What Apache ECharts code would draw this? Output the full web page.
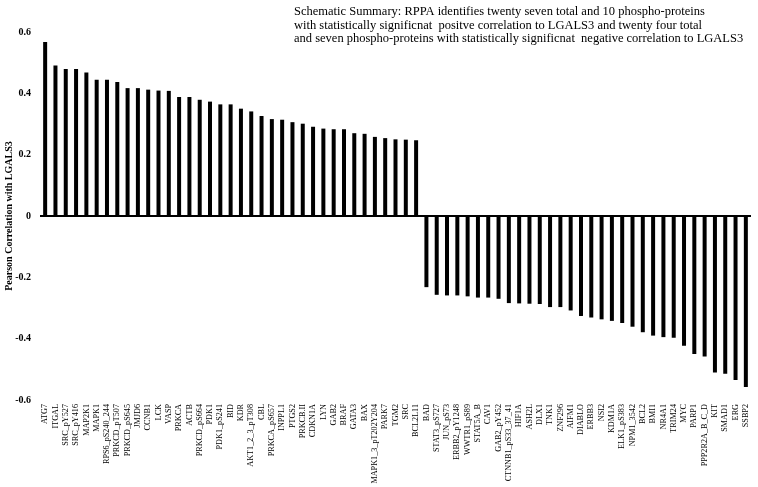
<!DOCTYPE html>
<html>
<head>
<meta charset="utf-8">
<script src="https://cdn.jsdelivr.net/npm/echarts@6/dist/echarts.min.js"></script>
<style>
html,body{margin:0;padding:0;background:#fff;}
#c{width:758px;height:487px;}
</style>
</head>
<body>
<div id="c"></div>
<script>
const categories = [
  'ATG7','ITGAL','SRC_pY527','SRC_pY416','MAP2K1','MAPK1','RPS6_pS240_244','PRKCD_pT507','PRKCD_pS645','JMJD6',
  'CCNB1','LCK','VASP','PRKCA','ACTB','PRKCD_pS664','PDK1','PDK1_pS241','BID','KDR',
  'AKT1_2_3_pT308','CBL','PRKCA_pS657','INPPL1','PTGS2','PRKCB.II','CDKN1A','LYN','GAB2','BRAF',
  'GATA3','BAX','MAPK1_3_pT202Y204','PARK7','TGM2','SRC','BCL2L11',
  'BAD','STAT3_pS727','JUN_pS73','ERBB2_pY1248','WWTR1_pS89','STAT5A_B','CAV1','GAB2_pY452','CTNNB1_pS33_37_41','HIF1A',
  'ASH2L','DLX1','TNK1','ZNF296','AIFM1','DIABLO','ERBB3','NSI2','KDM1A','ELK1_pS383',
  'NPM1_3542','BCL2','BMI1','NR4A1','TRIM24','MYC','PARP1','PPP2R2A_B_C_D','KIT','SMAD1',
  'ERG','SSBP2'
];
const correlations = [
  0.567,0.491,0.479,0.479,0.468,0.444,0.444,0.437,0.417,0.417,
  0.412,0.409,0.408,0.388,0.388,0.379,0.373,0.364,0.364,0.350,
  0.341,0.326,0.316,0.314,0.306,0.301,0.291,0.285,0.283,0.283,
  0.270,0.268,0.258,0.254,0.250,0.249,0.247,
  -0.232,-0.257,-0.259,-0.259,-0.262,-0.266,-0.266,-0.270,-0.284,-0.285,
  -0.286,-0.287,-0.297,-0.297,-0.308,-0.326,-0.331,-0.337,-0.342,-0.349,
  -0.361,-0.379,-0.390,-0.395,-0.397,-0.423,-0.450,-0.458,-0.510,-0.514,
  -0.535,-0.558
];
const yTicks = [-0.6,-0.4,-0.2,0,0.2,0.4,0.6];
const titleLines = [
  'Schematic Summary: RPPA identifies twenty seven total and 10 phospho-proteins',
  'with statistically significnat  positve correlation to LGALS3 and twenty four total',
  'and seven phospho-proteins with statistically significnat  negative correlation to LGALS3'
];
const yName = 'Pearson Correlation with LGALS3';

const chart = echarts.init(document.getElementById('c'));
const serif = '"Liberation Serif","Times New Roman",serif';
chart.setOption({
  animation: false,
  backgroundColor: '#fff',
  title: {
    text: titleLines.join('\n'),
    left: 289, top: 0,
    textStyle: {fontFamily: serif, fontSize: 12.5, fontWeight: 'normal', color: '#000', lineHeight: 13.5}
  },
  grid: {left: 40, right: 7, top: 32, bottom: 87, containLabel: false, outerBoundsMode: 'none'},
  xAxis: {
    type: 'category',
    data: categories,
    position: 'bottom',
    axisLine: {show: false},
    axisTick: {show: false},
    axisLabel: {interval: 0, rotate: 90, margin: 4, fontFamily: serif, fontSize: 8.2, color: '#000'}
  },
  yAxis: {
    type: 'value',
    min: -0.6, max: 0.6, interval: 0.2,
    name: yName,
    nameLocation: 'middle',
    nameGap: 26,
    nameMoveOverlap: false,
    nameTextStyle: {fontFamily: serif, fontSize: 10, fontWeight: 'bold', color: '#000'},
    axisLine: {show: false},
    axisTick: {show: false},
    splitLine: {show: false},
    axisLabel: {
      margin: 9, fontFamily: serif, fontSize: 10, fontWeight: 'bold', color: '#000',
      formatter: v => { const t = yTicks.find(k => Math.abs(k - v) < 1e-9); return t === 0 ? '0' : String(t); }
    }
  },
  series: [{
    type: 'bar',
    data: correlations,
    barWidth: 4,
    itemStyle: {color: '#000'},
    markLine: {
      silent: true,
      symbol: 'none',
      label: {show: false},
      lineStyle: {color: '#000', width: 2, type: 'solid'},
      data: [{yAxis: 0}]
    }
  }]
});
</script>
</body>
</html>
